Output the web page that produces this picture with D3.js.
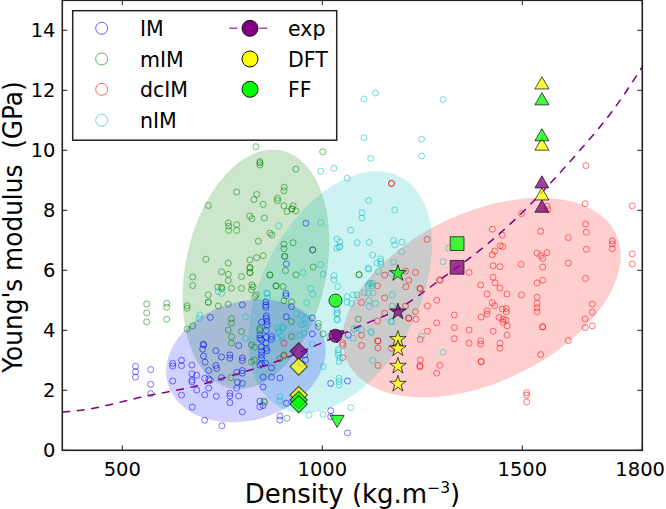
<!DOCTYPE html>
<html><head><meta charset="utf-8">
<script src="https://cdnjs.cloudflare.com/ajax/libs/d3/7.8.5/d3.min.js"></script>
<style>html,body{margin:0;padding:0;background:#fff}svg{display:block}text{font-family:"DejaVu Sans";fill:#000}</style>
</head><body><svg id="c" width="666" height="509"></svg>
<script>
const xTicks=[500,1000,1500,1800];
const yTicks=[0,2,4,6,8,10,12,14];
const IM=[[533,2.8],[533,2.62],[533,2.44],[571,2.69],[571,2.2],[571,1.89],[626,2.9],[626,2.81],[626,2.31],[648,3],[648,2.82],[648,1.84],[674,2.84],[674,2.55],[674,2.34],[674,2.28],[675,1.44],[686,2.5],[686,2.01],[702,3.54],[704,3.51],[701,3.37],[703,3.14],[707,2.94],[716,2.66],[706,2.4],[716,2.38],[720,2.33],[716,2.07],[706,1.85],[706,1],[720,4.43],[734,3.32],[748,3.11],[734,2.83],[736,2.73],[748,2.42],[735,1.8],[749,.82],[769,3.18],[769,3.07],[791,3.49],[800,3.08],[800,2.99],[786,2.6],[800,2.66],[800,2.57],[788,2.27],[800,2.23],[786,2.07],[769,1.9],[769,1.81],[791,1.81],[769,1.59],[800,1.28],[800,4.85],[859,4.95],[859,4.84],[859,4.77],[860,4.48],[860,4.4],[862,4.29],[848,4.27],[862,4.18],[860,3.99],[844,3.84],[844,3.73],[860,3.77],[873,3.79],[873,3.7],[848,3.68],[859,3.57],[860,3.4],[848,3.45],[862,3.32],[848,3.29],[848,3.18],[848,3.07],[848,2.9],[858,2.9],[844,2.84],[873,2.75],[852,2.44],[873,2.44],[894,2.41],[852,2.11],[844,1.64],[844,1.45],[852,1.49],[894,1.14],[894,1.01],[910,1.57],[910,6.21],[909,5.23],[909,5.15],[910,4.45],[923,4.79],[975,4.41],[975,3.88],[956,3.18],[958,3.01],[948,2.88],[1021,2.23],[1063,2.31],[1021,1.32],[1021,1.12],[1063,.58],[1065,3.84],[959,7.57],[976,6.68]];
const mIM=[[834,10.12],[844,9.62],[844,9.51],[844,9.58],[786,8.61],[836,8.53],[829,8.36],[715,8.16],[819,7.81],[824,7.72],[765,7.58],[766,7.47],[766,7.33],[786,7.52],[786,7.33],[840,6.97],[1001,9.95],[934,9.37],[852,8.2],[888,8.4],[888,8.32],[905,8.77],[904,8.65],[904,8.15],[927,8.15],[924,8.04],[924,8.05],[912,7.96],[934,7.98],[855,7.74],[869,7.24],[874,7.18],[904,6.87],[904,6.72],[927,6.92],[976,6.68],[906,6.46],[906,6.47],[852,6.49],[836,6.42],[819,6.35],[765,6.24],[819,6.1],[908,5.99],[977,6.11],[819,5.92],[819,5.93],[765,5.87],[748,5.95],[869,5.85],[869,5.84],[934,5.85],[798,5.79],[765,5.66],[1092,5.86],[1092,5.85],[884,5.48],[902,5.46],[824,5.51],[827,5.44],[798,5.4],[773,5.4],[748,5.44],[709,6.37],[819,6.07],[676,5.78],[676,5.49],[739,5.44],[749,5.39],[823,5.35],[835,5.18],[831,5.12],[715,5.18],[715,4.94],[715,4.93],[740,4.81],[765,4.87],[662,4.82],[662,4.74],[611,4.9],[611,4.77],[611,4.37],[561,4.88],[561,4.58],[561,4.28],[676,4.15],[662,4.04],[773,4.39],[773,4.24],[765,4.01],[798,3.96],[773,3.79],[773,3.57],[823,3.51],[831,3.44],[844,4.06],[844,3.99],[823,2.95],[830,3.01],[772,2.42],[894,3.05],[904,3.18],[923,4.29],[923,3.79],[904,4.99],[923,4.95],[885,5.48],[990,4.23],[990,4.12],[1002,3.88],[854,1.64],[856,1.6],[912,1.07],[1090,4.37]];
const dcIM=[[1173,8.89],[1173,8.9],[1659,9.49],[1657,8.22],[1775,8.15],[1562,8.14],[1564,8.02],[1498,7.89],[1658,7.54],[1660,7.27],[1425,7.37],[1546,7.3],[1450,7.17],[1615,7.09],[1262,7.03],[1725,6.98],[1725,6.88],[1725,6.72],[1660,6.7],[1445,6.82],[1451,6.79],[1431,6.64],[1425,6.52],[1537,6.57],[1562,6.59],[1546,6.49],[1551,6.4],[1775,6.55],[1775,6.21],[1615,6.24],[1497,6.2],[1427,6.15],[1444,6.12],[1551,6.11],[1367,5.93],[1233,5.93],[1208,5.97],[1156,5.84],[1294,5.68],[1294,5.67],[1216,5.67],[1427,5.77],[1658,5.73],[1537,5.58],[1551,5.67],[1432,5.58],[1396,5.51],[1444,5.41],[1138,5.48],[1209,5.45],[1244,5.4],[1412,5.21],[1462,5.21],[1498,5.18],[1537,5.1],[1537,4.9],[1537,4.75],[1537,4.62],[1675,4.87],[1675,4.6],[1657,4.38],[1675,4.15],[1657,4.09],[1425,4.92],[1431,4.82],[1412,4.65],[1412,4.54],[1450,4.71],[1460,4.73],[1460,4.62],[1397,4.44],[1442,4.43],[1452,4.37],[1459,4.34],[1452,4.27],[1462,4.15],[1551,4.11],[1551,4.12],[1427,3.97],[1462,3.84],[1367,4.01],[1330,4.51],[1330,4.09],[1330,3.72],[1286,5],[1263,4.81],[1286,4.25],[1263,3.97],[1245,5.38],[1233,4.62],[1234,4.37],[1216,4.4],[1216,4.41],[1208,4.81],[1156,5.08],[1156,4.57],[1138,4.31],[1098,4.93],[1098,3.84],[1098,3.49],[1139,3.65],[1139,3.64],[1139,3.41],[1139,2.83],[1173,3.4],[1245,3.7],[1367,3.57],[1396,3.65],[1396,3.54],[1444,3.57],[1444,3.4],[1615,3.66],[1546,3.19],[1245,3.01],[1244,2.82],[1244,2.78],[1294,2.83],[1286,2.57],[1397,2.96],[1397,2.95],[1511,1.92],[1511,1.84],[1511,1.61],[1051,3.57],[1051,3.5],[1051,3.09],[904,3.57],[904,3.14]];
const nIM=[[1133,11.91],[1104,11.71],[1302,11.69],[1104,10.42],[1248,10.37],[1248,9.81],[1121,9.73],[1062,9.07],[1116,8.33],[1181,8.01],[1099,7.92],[1099,7.74],[1071,7.34],[1087,6.92],[1117,6.93],[1178,6.99],[1181,6.85],[1199,6.94],[1316,6.74],[1044,6.95],[1044,6.79],[1126,6.51],[1146,6.38],[1146,6.29],[1146,6.2],[1178,6.27],[1198,6.62],[1302,6.29],[1116,6.04],[1173,5.9],[1121,5.57],[1124,5.48],[1115,5.48],[996,9.3],[1029,9.4],[891,7.48],[996,7.59],[1037,7.04],[1036,6.74],[1042,6.77],[996,6.19],[952,5.92],[1002,5.87],[1029,5.82],[1029,5.68],[1039,5.46],[971,5.39],[976,5.21],[961,4.92],[1062,5.12],[1062,4.94],[1073,4.9],[1077,5.18],[1087,5.18],[1105,5.26],[1115,5.24],[1115,6.07],[1137,6.24],[1140,5.96],[1037,4.68],[1037,4.55],[1037,4.37],[936,4.55],[948,4.48],[956,4.4],[948,4.18],[956,4.21],[902,4.12],[1019,3.79],[1040,3.35],[1040,3.18],[1044,3.07],[1077,3.74],[861,5.24],[1117,5.55],[1126,5.57],[1127,5.24],[1117,4.99],[1133,4.9],[1117,4.79],[1175,5.18],[1175,4.81],[1173,4.29],[1173,4.3],[1079,4.04],[1084,4.07],[1098,4.01],[1121,3.96],[1123,3.92],[1037,4.59],[1037,4.35],[1040,3.26],[1042,2.96],[1042,2.4],[1042,2.29],[1042,2.18],[1126,3],[1248,3.81],[1302,3.27],[1071,1.42],[694,4.51],[692,4.4],[740,5.29],[748,5.23],[863,5.23],[863,5.07],[808,4.45],[889,4.07],[900,4.07],[891,3.95],[808,3.73],[888,3.73],[898,3.79],[944,3.84],[955,3.9],[975,3.54],[1002,2.79],[894,1.79],[894,1.65],[967,1.18],[1002,1.2]];
const expCurve=[[350,1.28],[365,1.29],[571,1.84],[677,2.12],[798,2.59],[869,2.88],[981,3.48],[1090,4.12],[1186,4.68],[1294,5.68],[1444,7.23],[1519,8.18],[1577,9],[1644,10],[1727,11.34],[1800,12.78]];
const ellipseCentres={IM:[809,2.98],mIM:[834,6.03],dcIM:[1398,5.09],nIM:[1045,5.27]};
const expDiamond=[[941,3.3]],dftDiamond=[[941,2.79],[941,1.84]],ffDiamond=[[941,1.68],[941,1.54]];
const expCircle=[[1033,3.82]],ffCircle=[[1033,4.99]];
const expDown=[[1037,3.85]],ffDown=[[1037,1.03]];
const expStar=[[1189,4.62]],dftStar=[[1189,3.7],[1189,3.39],[1189,2.81],[1189,2.21]],ffStar=[[1189,5.9]];
const expSquare=[[1337,6.1]],ffSquare=[[1337,6.89]];
const expUp=[[1549,8.88],[1549,8.07]],dftUp=[[1549,12.18],[1549,10.14],[1549,8.48]],ffUp=[[1549,11.65],[1549,10.45]];
const names=["IM","mIM","dcIM","nIM"];
const rightNames=["exp","DFT","FF"];

const W={l:62.3,r:642.3,t:.3,b:450.3};
const x=d3.scaleLinear().domain([350,1800]).range([W.l,W.r]);
const y=d3.scaleLinear().domain([0,15]).range([W.b,W.t]);
const svg=d3.select("#c");
const col={IM:"#0000ff",mIM:"#008000",dcIM:"#ff0000",nIM:"#00bfbf",exp:"#800080",DFT:"#ffff00",FF:"#00ff00"};
const geom={IM:[81,59,-16.7],mIM:[70,121.3,12.2],dcIM:[148.5,84.3,-25.6],nIM:[78,129.8,27.4]};
const fillOp={IM:.18,mIM:.2,dcIM:.19,nIM:.2};
const sets={IM,mIM,dcIM,nIM};
["mIM","dcIM","nIM","IM"].forEach(k=>{const c=ellipseCentres[k],g=geom[k];
 svg.append("ellipse").attr("rx",g[0]).attr("ry",g[1]).attr("fill",col[k]).attr("fill-opacity",fillOp[k])
  .attr("stroke",col[k]).attr("stroke-opacity",.08)
  .attr("transform",`translate(${x(c[0])},${y(c[1])}) rotate(${g[2]})`);});
names.forEach(k=>{svg.append("g").selectAll("circle").data(sets[k]).join("circle")
 .attr("cx",d=>x(d[0])).attr("cy",d=>y(d[1])).attr("r",3).attr("fill","none")
 .attr("stroke",col[k]).attr("stroke-opacity",.6).attr("stroke-width",.9);});
svg.append("path").datum(expCurve).attr("fill","none").attr("stroke",col.exp).attr("stroke-width",1.5)
 .attr("stroke-dasharray","8,6.5").attr("d",d3.line().x(d=>x(d[0])).y(d=>y(d[1])).curve(d3.curveMonotoneX));
function mark(data,type,size,color,rot){
 svg.append("g").selectAll("path").data(data).join("path")
  .attr("d",d3.symbol().type(type).size(size)())
  .attr("transform",d=>`translate(${x(d[0])},${y(d[1])}) rotate(${rot||0})`)
  .attr("fill",color).attr("fill-opacity",.75).attr("stroke","#111").attr("stroke-opacity",.75).attr("stroke-width",1);
}
mark(expDown,d3.symbolTriangle,85,col.exp,180);mark(ffDown,d3.symbolTriangle,85,col.FF,180);
mark(expUp,d3.symbolTriangle,85,col.exp);mark(dftUp,d3.symbolTriangle,85,col.DFT);mark(ffUp,d3.symbolTriangle,85,col.FF);
mark(expDiamond,d3.symbolSquare,150,col.exp,45);mark(dftDiamond,d3.symbolSquare,150,col.DFT,45);mark(ffDiamond,d3.symbolSquare,150,col.FF,45);
mark(expCircle,d3.symbolCircle,135,col.exp);mark(ffCircle,d3.symbolCircle,135,col.FF);
mark(expSquare,d3.symbolSquare,190,col.exp);mark(ffSquare,d3.symbolSquare,190,col.FF);
mark(expStar,d3.symbolStar,85,col.exp);mark(dftStar,d3.symbolStar,85,col.DFT);mark(ffStar,d3.symbolStar,85,col.FF);
// axes
const fr=svg.append("g");
const tick=(x1,y1,x2,y2)=>fr.append("line").attr("x1",x1).attr("y1",y1).attr("x2",x2).attr("y2",y2).attr("stroke","#222").attr("stroke-width",1);
xTicks.forEach((t,i)=>{tick(x(t),W.b,x(t),W.b-5);tick(x(t),W.t,x(t),W.t+5);
 const last=i===xTicks.length-1;
 svg.append("text").attr("x",last?665:x(t)).attr("y",476).attr("text-anchor",last?"end":"middle").attr("font-size",19.5).text(t);});
yTicks.forEach(t=>{tick(W.l,y(t),W.l+5,y(t));tick(W.r,y(t),W.r-5,y(t));
 svg.append("text").attr("x",55.5).attr("y",y(t)+7).attr("text-anchor","end").attr("font-size",19.5).text(t);});
fr.append("rect").attr("x",W.l).attr("y",W.t).attr("width",W.r-W.l).attr("height",W.b-W.t).attr("fill","none").attr("stroke","#222").attr("stroke-width",1.6);
const xl=svg.append("text").attr("x",352.5).attr("y",503).attr("text-anchor","middle").attr("font-size",26).text("Density (kg.m");
xl.append("tspan").attr("font-size",15.5).attr("dy",-10).text("−3");
xl.append("tspan").attr("dy",10).text(")");
svg.append("text").attr("transform","translate(22,227) rotate(-90) scale(1,1.04)").attr("text-anchor","middle").attr("font-size",24.8).style("white-space","pre").text("Young's modulus  (GPa)");
// legend
const lg=svg.append("g");
lg.append("rect").attr("x",72.7).attr("y",10.7).attr("width",264).attr("height",129.5).attr("fill","#fff").attr("stroke","#222").attr("stroke-width",1.5);
const rows=d3.scaleOrdinal().domain([0,1,2,3]).range([28.3,59,89.3,120.3]);
names.forEach((k,i)=>{lg.append("circle").attr("cx",101.7).attr("cy",rows(i)).attr("r",6).attr("fill","none").attr("stroke",col[k]).attr("stroke-opacity",.6).attr("stroke-width",1);
 lg.append("text").attr("x",140).attr("y",rows(i)+7.5).attr("font-size",20.5).text(k);});
rightNames.forEach((k,i)=>{
 if(i==0)lg.append("line").attr("x1",229.3).attr("x2",268).attr("y1",rows(0)).attr("y2",rows(0)).attr("stroke",col.exp).attr("stroke-width",1.5).attr("stroke-opacity",.7).attr("stroke-dasharray","8,7");
 lg.append("circle").attr("cx",250).attr("cy",rows(i)).attr("r",8).attr("fill",col[k]).attr("stroke","#111").attr("stroke-width",1);
 lg.append("text").attr("x",288).attr("y",rows(i)+7.5).attr("font-size",20.5).text(k);});
</script></body></html>
